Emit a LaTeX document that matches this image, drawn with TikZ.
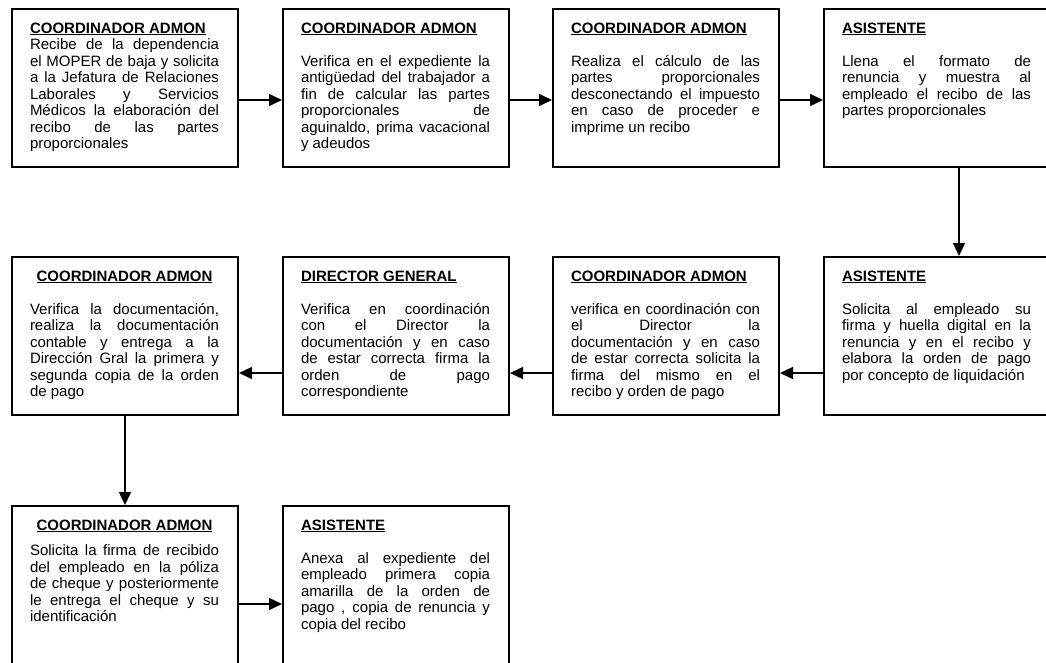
\documentclass[tikz,border=0pt]{standalone}
\usepackage{fontspec}
\setmainfont{Liberation Sans}
\usetikzlibrary{arrows.meta}

% width of the justified text block inside each card
\newlength\bodyw
\setlength\bodyw{189pt}
% justified line, last (ragged) line, blank gap
\newcommand\jl[1]{\makebox[\bodyw][s]{#1}\par}
\newcommand\lastl[1]{\makebox[\bodyw][l]{#1}\par}
\newcommand\gap{\vspace{16.5pt}}
% bold underlined role heading
\newcommand\roleul[1]{\setbox0\hbox{\textbf{#1}}\rlap{\rule[-2.2pt]{\wd0}{1.3pt}}\box0}
\newcommand\roleL[1]{\rule{0pt}{24pt}\roleul{#1}\par}
\newcommand\roleC[1]{\rule{0pt}{24pt}\makebox[\bodyw][c]{\roleul{#1}}\par}
% card contents: fixed-size box, text inset from the left
\newcommand\card[1]{\parbox[t][158pt][t]{226pt}{\fontsize{15pt}{16.5pt}\selectfont
  \parindent=0pt\leftskip=18pt\relax #1}}

\tikzset{
  cardbox/.style={draw, line width=2pt, anchor=north west, inner sep=0pt,
    minimum width=226pt, minimum height=158pt},
  flow/.style={line width=1.4pt, -{Triangle[length=13pt,width=12pt]}}
}

\begin{document}
\begin{tikzpicture}[x=1pt, y=-1pt]
\clip (0,0) rectangle (1046,662);
\fill[white] (0,0) rectangle (1046,662);

% ---- first row ----
\node[cardbox] (b1) at (11,8) {\card{%
  \roleL{COORDINADOR ADMON}
  \jl{Recibe de la dependencia}
  \jl{el MOPER de baja y solicita}
  \jl{a la Jefatura de Relaciones}
  \jl{Laborales y Servicios}
  \jl{Médicos la elaboración del}
  \jl{recibo de las partes}
  \lastl{proporcionales}}};

\node[cardbox] (b2) at (282,8) {\card{%
  \roleL{COORDINADOR ADMON}\gap
  \jl{Verifica en el expediente la}
  \jl{antigüedad del trabajador a}
  \jl{fin de calcular las partes}
  \jl{proporcionales de}
  \jl{aguinaldo, prima vacacional}
  \lastl{y adeudos}}};

\node[cardbox] (b3) at (552,8) {\card{%
  \roleL{COORDINADOR ADMON}\gap
  \jl{Realiza el cálculo de las}
  \jl{partes proporcionales}
  \jl{desconectando el impuesto}
  \jl{en caso de proceder e}
  \lastl{imprime un recibo}}};

\node[cardbox] (b4) at (823,8) {\card{%
  \roleL{ASISTENTE}\gap
  \jl{Llena el formato de}
  \jl{renuncia y muestra al}
  \jl{empleado el recibo de las}
  \lastl{partes proporcionales}}};

% ---- second row ----
\node[cardbox] (b8) at (823,256) {\card{%
  \roleL{ASISTENTE}\gap
  \jl{Solicita al empleado su}
  \jl{firma y huella digital en la}
  \jl{renuncia y en el recibo y}
  \jl{elabora la orden de pago}
  \lastl{por concepto de liquidación}}};

\node[cardbox] (b7) at (552,256) {\card{%
  \roleL{COORDINADOR ADMON}\gap
  \jl{verifica en coordinación con}
  \jl{el Director la}
  \jl{documentación y en caso}
  \jl{de estar correcta solicita la}
  \jl{firma del mismo en el}
  \lastl{recibo y orden de pago}}};

\node[cardbox] (b6) at (282,256) {\card{%
  \roleL{DIRECTOR GENERAL}\gap
  \jl{Verifica en coordinación}
  \jl{con el Director la}
  \jl{documentación y en caso}
  \jl{de estar correcta firma la}
  \jl{orden de pago}
  \lastl{correspondiente}}};

\node[cardbox] (b5) at (11,256) {\card{%
  \roleC{COORDINADOR ADMON}\gap
  \jl{Verifica la documentación,}
  \jl{realiza la documentación}
  \jl{contable y entrega a la}
  \jl{Dirección Gral la primera y}
  \jl{segunda copia de la orden}
  \lastl{de pago}}};

% ---- third row ----
\node[cardbox] (b9) at (11,505) {\card{%
  \roleC{COORDINADOR ADMON}\vspace{9pt}
  \jl{Solicita la firma de recibido}
  \jl{del empleado en la póliza}
  \jl{de cheque y posteriormente}
  \jl{le entrega el cheque y su}
  \lastl{identificación}}};

\node[cardbox] (b10) at (282,505) {\card{%
  \roleL{ASISTENTE}\gap
  \jl{Anexa al expediente del}
  \jl{empleado primera copia}
  \jl{amarilla de la orden de}
  \jl{pago , copia de renuncia y}
  \lastl{copia del recibo}}};

% ---- connectors ----
\draw[flow] ([yshift=-12pt]b1.east) -- ([yshift=-12pt]b2.west);
\draw[flow] ([yshift=-12pt]b2.east) -- ([yshift=-12pt]b3.west);
\draw[flow] ([yshift=-12pt]b3.east) -- ([yshift=-12pt]b4.west);
\draw[flow] ([xshift=22pt]b4.south) -- ([xshift=22pt]b8.north);
\draw[flow] ([yshift=-37pt]b8.west) -- ([yshift=-37pt]b7.east);
\draw[flow] ([yshift=-37pt]b7.west) -- ([yshift=-37pt]b6.east);
\draw[flow] ([yshift=-37pt]b6.west) -- ([yshift=-37pt]b5.east);
\draw[flow] (b5.south) -- (b9.north);
\draw[flow] ([yshift=-19pt]b9.east) -- ([yshift=-19pt]b10.west);
\end{tikzpicture}
\end{document}
